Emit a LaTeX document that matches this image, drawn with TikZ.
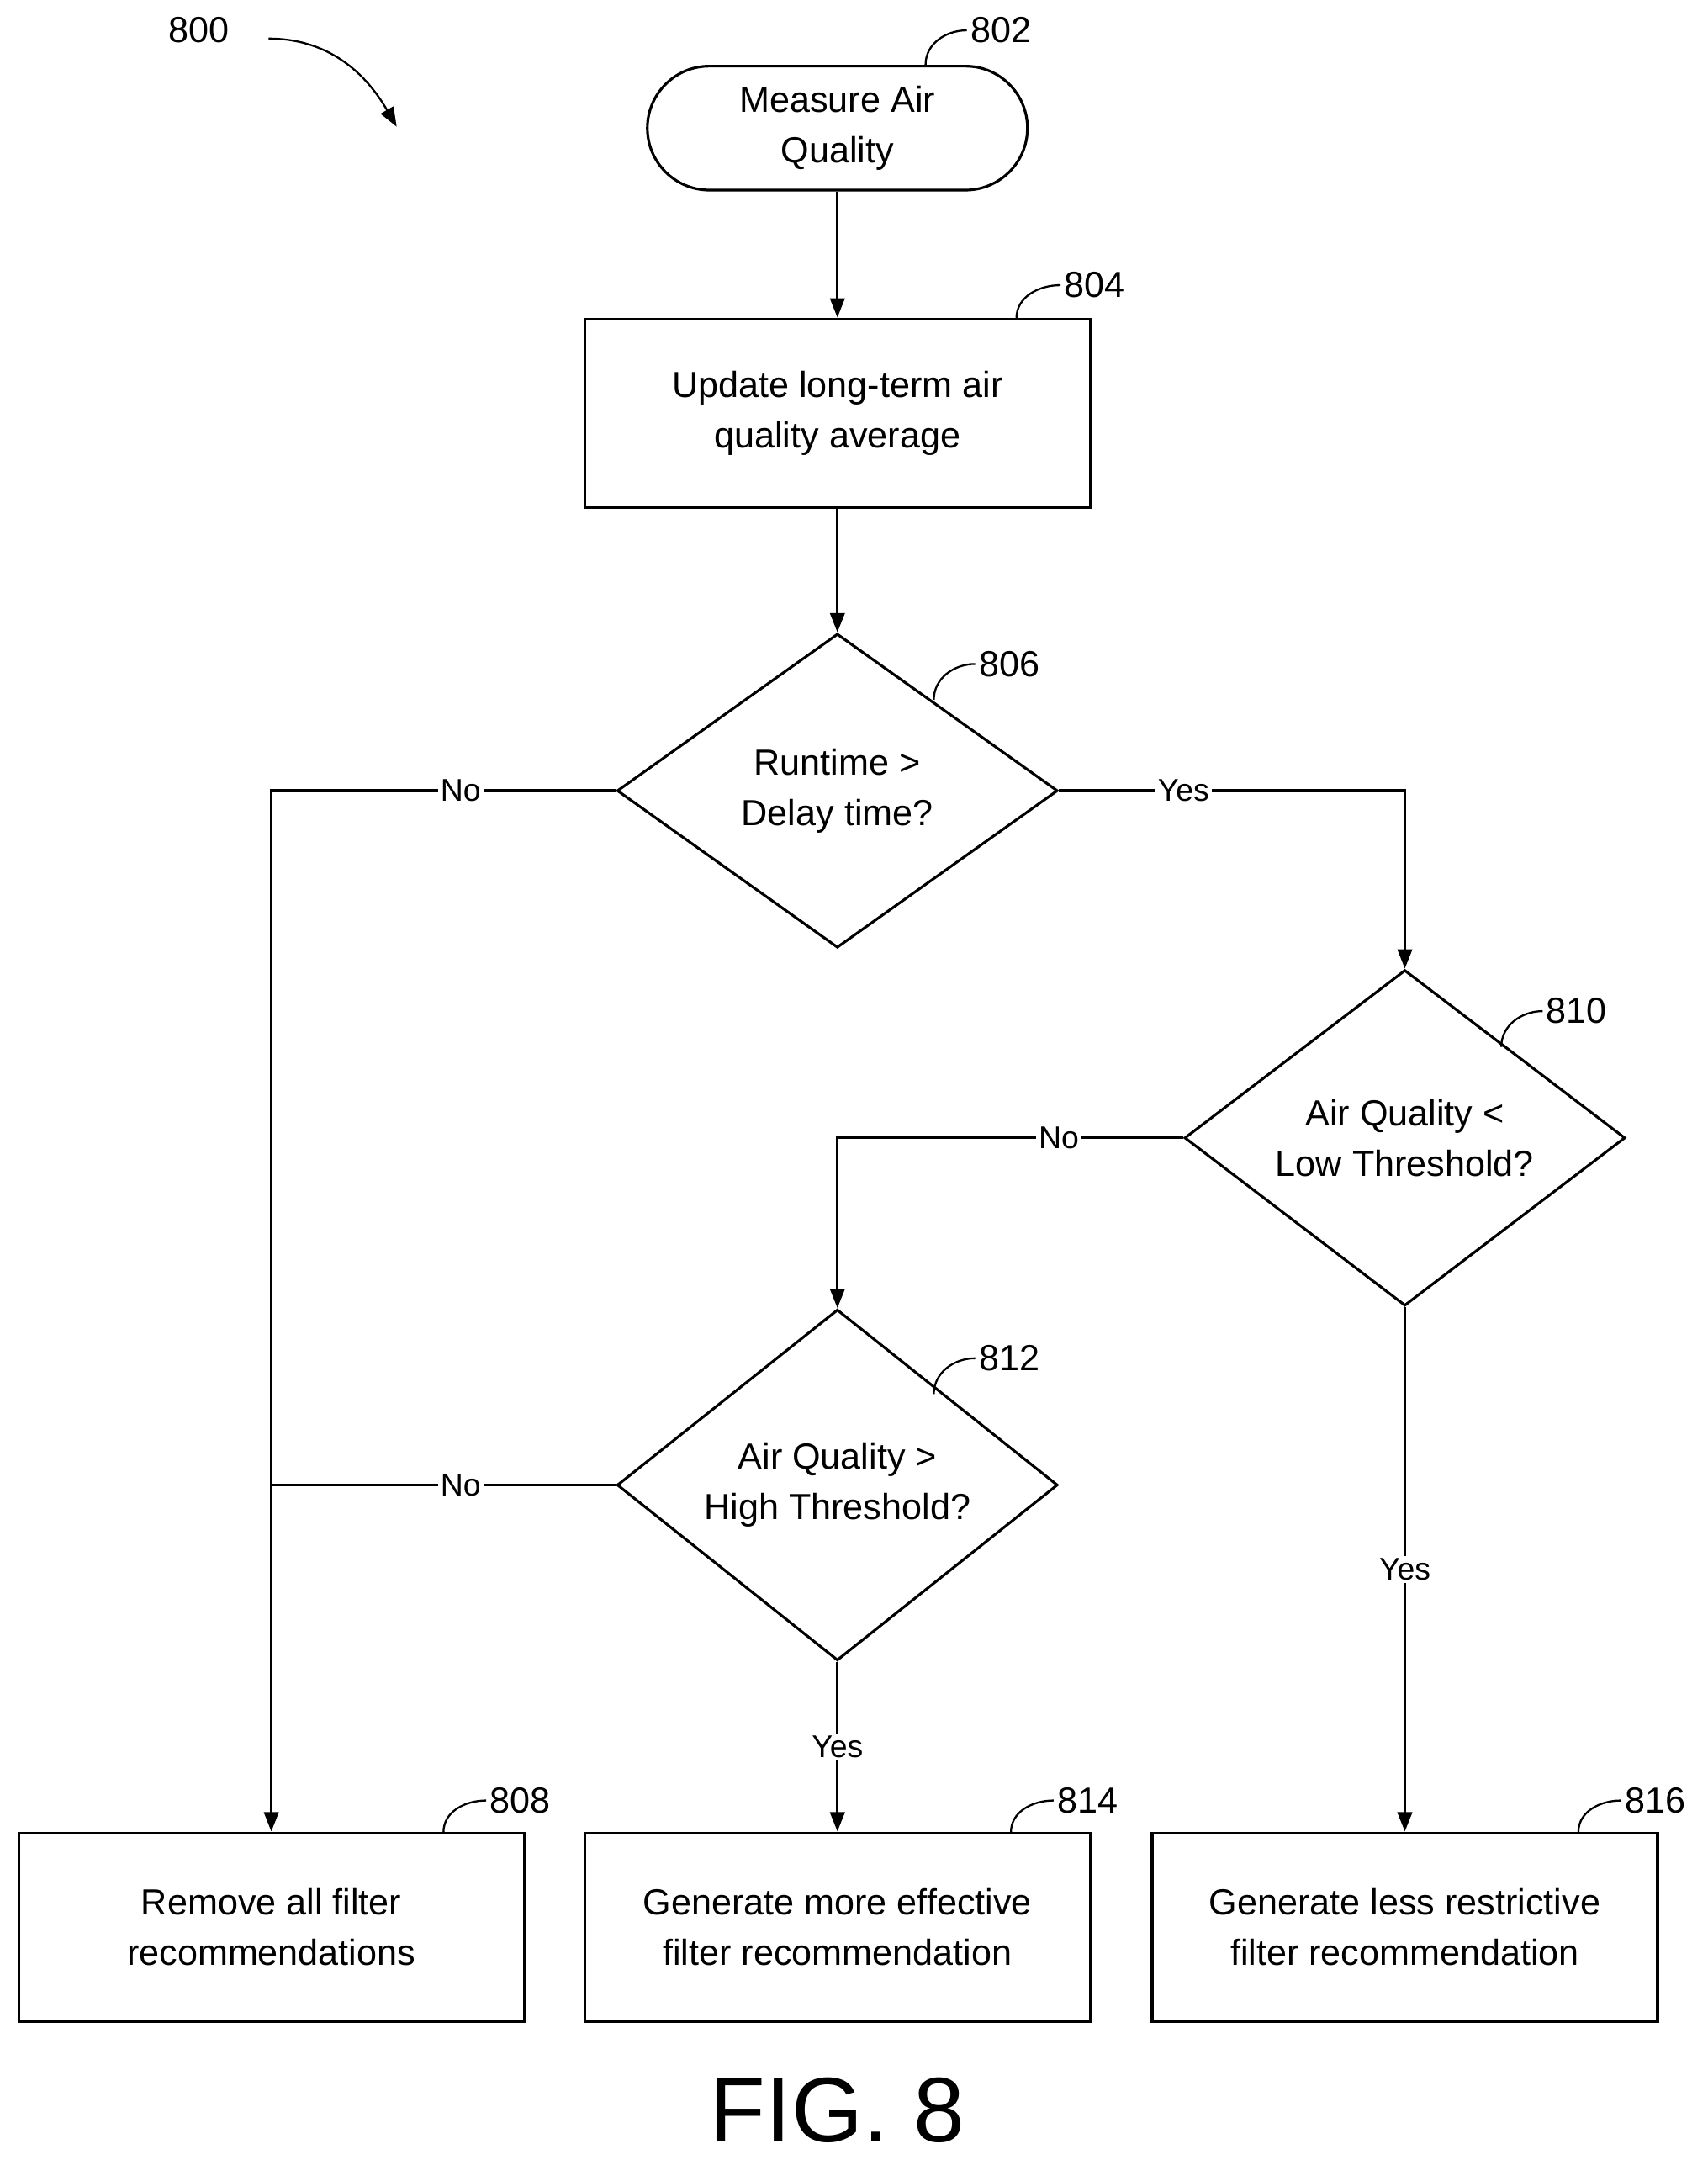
\documentclass[tikz,border=0pt]{standalone}
\usepackage{fontspec}
\setmainfont{Liberation Sans}
\usetikzlibrary{shapes.geometric,arrows.meta}

\begin{document}
\begin{tikzpicture}[
    x = 0.02cm, y = -0.02cm,
    line width = 1.1pt,
    font = \fontsize{15}{21}\selectfont,
    process/.style = {draw, align = center,
      minimum width = 7.34cm, minimum height = 2.74cm},
    start/.style = {draw, align = center, rounded corners = 0.9cm,
      minimum width = 5.52cm, minimum height = 1.8cm},
    decision/.style = {draw, diamond, align = center, inner sep = 0pt,
      minimum width = 6.4cm, minimum height = 4.56cm},
    answer/.style = {fill = white, inner sep = 1pt,
      font = \fontsize{13}{15}\selectfont},
    flow/.style = {-{Triangle[length = 8pt, width = 6pt]}},
    refnum/.style = {anchor = west, inner sep = 1pt},
    hook/.style = {line width = 0.8pt},
    ]

    \useasboundingbox (0, 0) rectangle (1240, 1568);

    % shapes
    \node at (608, 93) [start, name = measure] {Measure Air\\Quality};
    \node at (608, 300) [process, name = update]
    {Update long-term air\\quality average};
    \node at (608, 574) [decision, name = runtime]
    {Runtime >\\Delay time?};
    \node at (1020, 826) [decision, name = low]
    {Air Quality <\\Low Threshold?};
    \node at (608, 1078) [decision, name = high]
    {Air Quality >\\High Threshold?};
    \node at (197, 1399) [process, name = remove]
    {Remove all filter\\recommendations};
    \node at (608, 1399) [process, name = effective]
    {Generate more effective\\filter recommendation};
    \node at (1020, 1399) [process, name = restrictive]
    {Generate less restrictive\\filter recommendation};

    % corners and joints
    \coordinate (no_left) at (197, 574);
    \coordinate (yes_right) at (1020, 574);
    \coordinate (no_low) at (608, 826);
    \coordinate (no_high) at (197, 1078);

    % flow
    \draw [flow] (runtime.west) -- node [answer, pos = 0.45] {No}
    (no_left) -- (remove.north);
    \draw [flow] (measure) -- (update);
    \draw [flow] (update) -- (runtime);
    \draw [flow] (runtime.east) -- node [answer, pos = 0.36] {Yes}
    (yes_right) -- (low.north);
    \draw [flow] (low.west) -- node [answer, pos = 0.36] {No}
    (no_low) -- (high.north);
    \draw (high.west) -- node [answer, pos = 0.45] {No} (no_high);
    \draw [flow] (high.south) -- node [answer, pos = 0.5] {Yes}
    (effective.north);
    \draw [flow] (low.south) -- node [answer, pos = 0.5] {Yes}
    (restrictive.north);

    % reference numbers
    \node at (120, 22) [refnum, name = n800] {800};
    \draw [flow, hook] (195, 28) to [out = 0, in = 120] (288, 92);
    \node at (702, 22) [refnum, name = n802] {802};
    \draw [hook] (672, 47) to [out = 90, in = 180] (n802.west);
    \node at (770, 207) [refnum, name = n804] {804};
    \draw [hook] (738, 231) to [out = 90, in = 180] (n804.west);
    \node at (708, 482) [refnum, name = n806] {806};
    \draw [hook] (678, 508) to [out = 90, in = 180] (n806.west);
    \node at (1120, 734) [refnum, name = n810] {810};
    \draw [hook] (1090, 760) to [out = 90, in = 180] (n810.west);
    \node at (708, 986) [refnum, name = n812] {812};
    \draw [hook] (678, 1012) to [out = 90, in = 180] (n812.west);
    \node at (353, 1307) [refnum, name = n808] {808};
    \draw [hook] (322, 1330) to [out = 90, in = 180] (n808.west);
    \node at (765, 1307) [refnum, name = n814] {814};
    \draw [hook] (734, 1330) to [out = 90, in = 180] (n814.west);
    \node at (1177, 1307) [refnum, name = n816] {816};
    \draw [hook] (1146, 1330) to [out = 90, in = 180] (n816.west);

    \node at (608, 1532) [font = \fontsize{38}{42}\selectfont, name = fig]
    {FIG. 8};

  \end{tikzpicture}
\end{document}
